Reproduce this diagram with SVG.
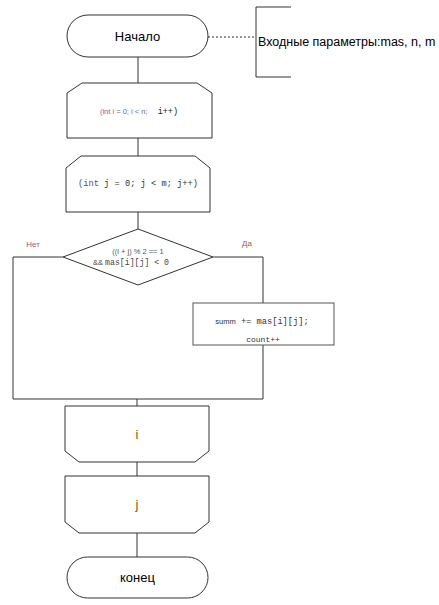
<svg xmlns="http://www.w3.org/2000/svg" width="439" height="605" viewBox="0 0 439 605">
<style>
.s{fill:#fff;stroke:#333;stroke-width:1}
.c{fill:none;stroke:#333;stroke-width:1}
.t{font-family:"Liberation Sans",Arial,sans-serif;fill:#000;text-anchor:middle}
.m{font-family:"Liberation Mono","Courier New",monospace}
.sm{font-family:"Liberation Sans",Arial,sans-serif}
</style>
<rect width="439" height="605" fill="#fff"/>
<g id="connectors">
<line class="c" x1="138" y1="57" x2="138" y2="83"/>
<line class="c" x1="138" y1="138" x2="138" y2="156"/>
<line class="c" x1="138" y1="212" x2="138" y2="229"/>
<polyline class="c" points="63,257 13,257 13,399 263,399"/>
<polyline class="c" points="213,257 263,257 263,303"/>
<line class="c" x1="263" y1="345" x2="263" y2="399"/>
<line class="c" x1="137" y1="399" x2="137" y2="406"/>
<line class="c" x1="137" y1="462" x2="137" y2="476"/>
<line class="c" x1="137" y1="533" x2="137" y2="557"/>
<line class="c" x1="208" y1="37" x2="256" y2="37" stroke-dasharray="2,2"/>
<text class="t" x="33" y="247" font-size="8" style="fill:#a05a78">Нет</text>
<text class="t" x="247" y="246" font-size="8" style="fill:#a0621a">Да</text>
</g>
<g id="start">
<rect class="s" x="67" y="15" width="141" height="42" rx="21"/>
<text class="t" x="137.5" y="41" font-size="13">Начало</text>
</g>
<g id="comment">
<polyline class="c" points="291,7 256,7 256,77 291,77"/>
<text class="sm" x="258" y="46" font-size="12.5" fill="#000">Входные параметры:mas, n, m</text>
</g>
<g id="loop-i">
<polygon class="s" points="82,83 197,83 212,93 212,138 67,138 67,93"/>
<text class="t" x="139" y="114" font-size="7.5"><tspan style="fill:#6a6aa0">(int i = 0; i &lt; n;</tspan><tspan class="m" font-size="8.5" style="fill:#222" xml:space="preserve">  i++)</tspan></text>
</g>
<g id="loop-j">
<polygon class="s" points="81,156 195,156 210,168 210,212 66,212 66,168"/>
<text class="t m" x="138" y="186" font-size="8.7" style="fill:#333"><tspan style="fill:#3050c0">(int</tspan> j = 0; j &lt; m; j++)</text>
</g>
<g id="condition">
<polygon class="s" points="138,229 213,257 138,285 63,257"/>
<text class="t" x="138" y="254" font-size="7.5" style="fill:#555">((i + j) % 2 == 1</text>
<text class="t" x="131" y="265" font-size="7.5" style="fill:#444">&amp;&amp; <tspan class="m" font-size="8.2">mas[i][j] &lt; 0</tspan></text>
</g>
<g id="process">
<rect class="s" x="193" y="303" width="141" height="42" stroke-width="1.5" style="stroke:#555"/>
<text class="t" x="262" y="324" font-size="7.5" style="fill:#333"><tspan>summ</tspan><tspan class="m" font-size="8.7" xml:space="preserve"> += mas[i][j];</tspan></text>
<text class="t m" x="263" y="342" font-size="8" style="fill:#333">count++</text>
</g>
<g id="loop-i-end">
<polygon class="s" points="65,406 209,406 209,451 195,462 79,462 65,451"/>
<text class="t" x="137" y="439" font-size="13" style="fill:#8a5a00">i</text>
</g>
<g id="loop-j-end">
<polygon class="s" points="65,476 209,476 209,522 195,533 79,533 65,522"/>
<text class="t" x="137" y="509" font-size="13" style="fill:#8a5a00">j</text>
</g>
<g id="end">
<rect class="s" x="67" y="557" width="141" height="41" rx="20.5"/>
<text class="t" x="137.5" y="582" font-size="13">конец</text>
</g>
</svg>
